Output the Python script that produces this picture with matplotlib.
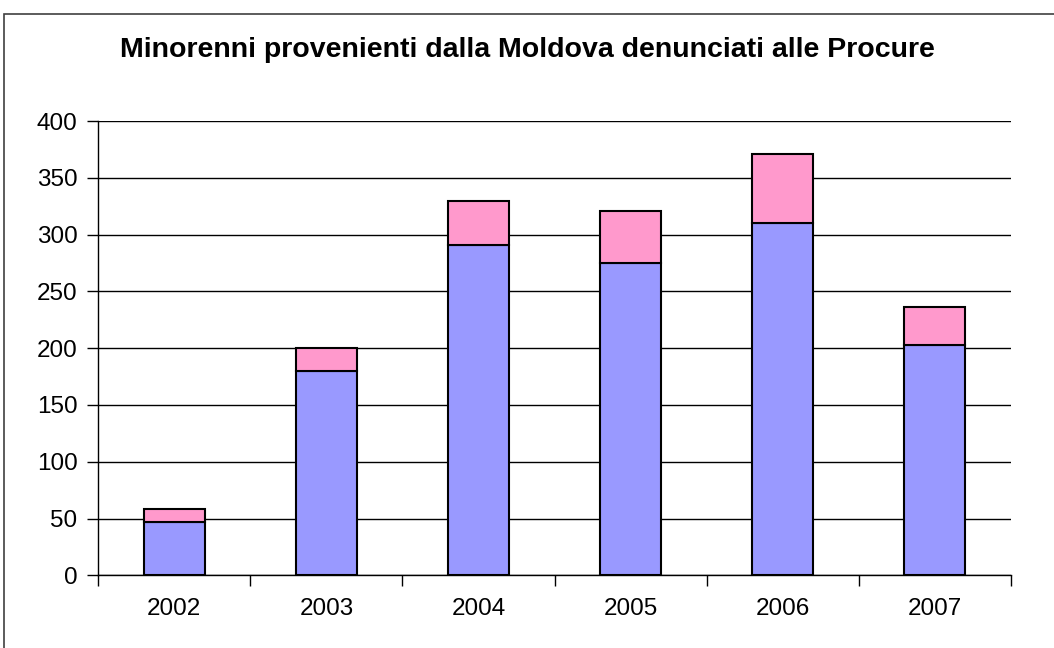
import matplotlib
matplotlib.use("Agg")
import matplotlib.pyplot as plt
from matplotlib.patches import Rectangle
import numpy as np

years = ["2002", "2003", "2004", "2005", "2006", "2007"]
lower = [47, 180, 291, 275, 310, 203]
upper_total = [58, 200, 330, 321, 371, 236]
upper = [t - b for t, b in zip(upper_total, lower)]

plt.rcParams["font.family"] = ["Liberation Sans", "DejaVu Sans"]

W, H = 1054, 648
fig = plt.figure(figsize=(W / 100, H / 100), dpi=100)
# chart-area border
fig.patches.append(Rectangle((4 / W, -0.05), 1.2, 1 - 14 / H + 0.05, transform=fig.transFigure,
                             fill=False, edgecolor="#404040", lw=1.2))

ax = fig.add_axes([98.3 / W, 1 - 575.3 / H, (1010.7 - 98.3) / W, (575.3 - 121) / H])
x = np.arange(len(years))
ax.bar(x, lower, width=0.4, color="#9999FF", edgecolor="black", lw=1.5, zorder=3)
ax.bar(x, upper, bottom=lower, width=0.4, color="#FF99CC", edgecolor="black", lw=1.5, zorder=3)

ax.set_xlim(-0.5, len(years) - 0.5)
ax.set_ylim(0, 400)
ax.set_yticks(range(0, 401, 50))
ax.yaxis.grid(True, color="black", lw=1, zorder=0)
ax.set_axisbelow(True)
ax.set_xticks(np.arange(-0.5, len(years), 1.0))
ax.set_xticklabels([])
ax.set_xticks(x, minor=True)
ax.set_xticklabels(years, minor=True)
ax.tick_params(axis="x", which="minor", length=0, pad=16, labelsize=17.5)
ax.tick_params(axis="x", which="major", length=8, width=1, direction="out")
ax.tick_params(axis="y", length=8, width=1, direction="out", pad=7, labelsize=17.5)
for s in ["top", "right"]:
    ax.spines[s].set_visible(False)
ax.spines["left"].set_linewidth(1)
ax.spines["bottom"].set_linewidth(1)

fig.text(0.5, 1 - 50 / H, "Minorenni provenienti dalla Moldova denunciati alle Procure",
         ha="center", va="center", fontsize=20.5, fontweight="bold")

fig.savefig("out.png", dpi=100)
